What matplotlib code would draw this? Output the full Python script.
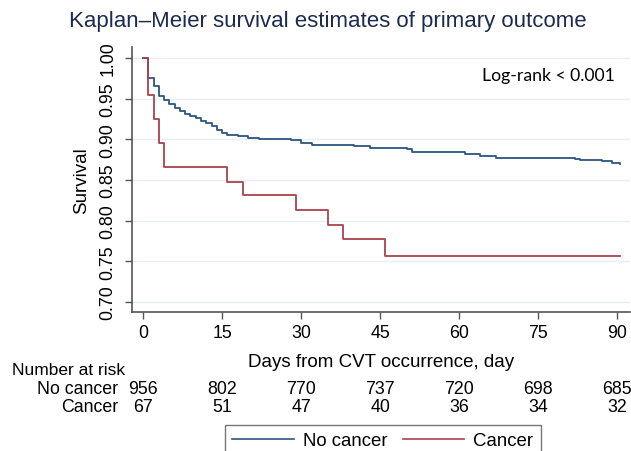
import matplotlib
matplotlib.use("Agg")
import matplotlib.pyplot as plt
from matplotlib.lines import Line2D
import matplotlib.transforms as mtransforms

plt.rcParams['font.family'] = ['Liberation Sans', 'DejaVu Sans']

# ---- data ----
nc_time = [0, 1, 2, 3, 4, 5, 6, 7, 8, 9, 10, 11, 12, 13, 14, 15, 16, 18, 20, 22, 25, 28,
           30, 32, 40, 43, 50, 51, 60, 61, 64, 67, 82, 83, 87, 89, 90.5]
nc_surv = [1.0, 0.975, 0.965, 0.953, 0.948, 0.943, 0.938, 0.935, 0.931, 0.929, 0.926,
           0.923, 0.920, 0.916, 0.912, 0.908, 0.905, 0.904, 0.902, 0.901, 0.900, 0.899,
           0.896, 0.893, 0.892, 0.889, 0.888, 0.885, 0.884, 0.882, 0.880, 0.877, 0.876,
           0.874, 0.873, 0.871, 0.870]
ca_time = [0, 1, 2, 3, 4, 16, 19, 29, 35, 38, 46, 90.5]
ca_surv = [1.0, 0.955, 0.925, 0.896, 0.866, 0.847, 0.831, 0.813, 0.795, 0.777, 0.757, 0.757]

x_ticks = [0, 15, 30, 45, 60, 75, 90]
y_ticks = [0.70, 0.75, 0.80, 0.85, 0.90, 0.95, 1.00]
risk_no_cancer = [956, 802, 770, 737, 720, 698, 685]
risk_cancer = [67, 51, 47, 40, 36, 34, 32]
groups = ["No cancer", "Cancer"]

blue = "#2b5580"
red = "#aa424b"
W, H = 631, 452

fig = plt.figure(figsize=(W / 100, H / 100), dpi=100)
ax = fig.add_axes([132 / W, 1 - 313 / H, (630 - 132) / W, (313 - 48) / H])

ax.plot(nc_time, nc_surv, drawstyle='steps-post', color=blue, lw=1.3)
ax.plot(ca_time, ca_surv, drawstyle='steps-post', color=red, lw=1.3)

ax.set_xlim(-2.1, 92.4)
ax.set_ylim(0.6877, 1.0135)
ax.set_xticks(x_ticks)
ax.set_yticks(y_ticks)
ax.set_yticklabels([f"{v:.2f}" for v in y_ticks], rotation=90, va='center')
ax.tick_params(axis='both', labelsize=12.8, direction='out', length=5, width=1,
               color='#555555', pad=4)
ax.tick_params(axis='y', pad=6)
ax.grid(axis='y', color='#e8eef2', lw=1)
ax.set_axisbelow(True)
for s in ['top', 'right']:
    ax.spines[s].set_visible(False)
for s in ['left', 'bottom']:
    ax.spines[s].set_color('#555555')
    ax.spines[s].set_linewidth(1.2)

ax.set_ylabel("Survival", fontsize=13.5, labelpad=7)
ax.set_xlabel("Days from CVT occurrence, day", fontsize=13.5, labelpad=8)

fig.text(328 / W, 1 - 22 / H, "Kaplan–Meier survival estimates of primary outcome",
         ha='center', va='center', fontsize=16, color='#1c2b50')

ax.text(0.97, 0.895, "Log-rank < 0.001", transform=ax.transAxes, ha='right',
        va='center', fontsize=12.7, family=['Lato', 'DejaVu Sans'])

# number at risk table
trans = mtransforms.blended_transform_factory(ax.transData, fig.transFigure)
fig.text(12 / W, 1 - 371 / H, "Number at risk", ha='left', va='center', fontsize=12.5)
fig.text(118 / W, 1 - 390 / H, groups[0], ha='right', va='center', fontsize=12.8)
fig.text(118 / W, 1 - 408 / H, groups[1], ha='right', va='center', fontsize=12.8)
for xt, a, b in zip(x_ticks, risk_no_cancer, risk_cancer):
    ax.text(xt, 1 - 390 / H, str(a), transform=trans, ha='center', va='center',
            fontsize=12.8, clip_on=False)
    ax.text(xt, 1 - 408 / H, str(b), transform=trans, ha='center', va='center',
            fontsize=12.8, clip_on=False)

handles = [Line2D([], [], color=blue, lw=1.2), Line2D([], [], color=red, lw=1.2)]
leg = fig.legend(handles, groups, loc='upper left', bbox_to_anchor=(225 / W, 1 - 426 / H),
                 ncol=2, fontsize=13.4, frameon=True, fancybox=False, handlelength=3.3,
                 handletextpad=0.5, columnspacing=0.8, borderpad=0.4, borderaxespad=0)
leg.get_frame().set_edgecolor('#555555')
leg.get_frame().set_linewidth(1.0)

fig.savefig("out.png", dpi=100)
